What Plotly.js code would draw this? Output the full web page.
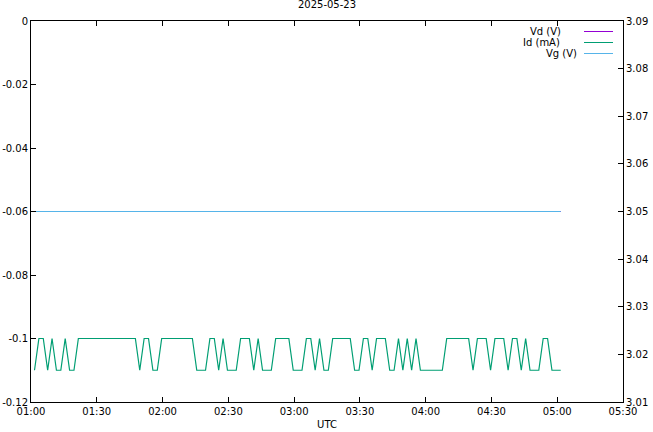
<!DOCTYPE html>
<html>
<head>
<meta charset="utf-8">
<script src="https://cdn.plot.ly/plotly-3.0.1.min.js"></script>
<style>html,body{margin:0;padding:0;background:#fff;}#chart{width:653px;height:432px;}</style>
</head>
<body>
<div id="chart"></div>
<script>
// ---- data ----
const day = '2025-05-23';
// sample times (HH:MM:SS), one every two minutes
const idTimes = [
  '01:01:36','01:03:36','01:05:36','01:07:36','01:09:36','01:11:36','01:13:36','01:15:36','01:17:36','01:19:36',
  '01:21:36','01:23:36','01:25:36','01:27:36','01:29:36','01:31:36','01:33:36','01:35:36','01:37:36','01:39:36',
  '01:41:36','01:43:36','01:45:36','01:47:36','01:49:36','01:51:36','01:53:36','01:55:36','01:57:36','01:59:36',
  '02:01:36','02:03:36','02:05:36','02:07:36','02:09:36','02:11:36','02:13:36','02:15:36','02:17:36','02:19:36',
  '02:21:36','02:23:36','02:25:36','02:27:36','02:29:36','02:31:36','02:33:36','02:35:36','02:37:36','02:39:36',
  '02:41:36','02:43:36','02:45:36','02:47:36','02:49:36','02:51:36','02:53:36','02:55:36','02:57:36','02:59:36',
  '03:01:36','03:03:36','03:05:36','03:07:36','03:09:36','03:11:36','03:13:36','03:15:36','03:17:36','03:19:36',
  '03:21:36','03:23:36','03:25:36','03:27:36','03:29:36','03:31:36','03:33:36','03:35:36','03:37:36','03:39:36',
  '03:41:36','03:43:36','03:45:36','03:47:36','03:49:36','03:51:36','03:53:36','03:55:36','03:57:36','03:59:36',
  '04:01:36','04:03:36','04:05:36','04:07:36','04:09:36','04:11:36','04:13:36','04:15:36','04:17:36','04:19:36',
  '04:21:36','04:23:36','04:25:36','04:27:36','04:29:36','04:31:36','04:33:36','04:35:36','04:37:36','04:39:36',
  '04:41:36','04:43:36','04:45:36','04:47:36','04:49:36','04:51:36','04:53:36','04:55:36','04:57:36','04:59:36',
  '05:01:36'
];
const idValues = [
  -0.11,-0.10,-0.10,-0.11,-0.10,-0.11,-0.11,-0.10,-0.11,-0.11,
  -0.10,-0.10,-0.10,-0.10,-0.10,-0.10,-0.10,-0.10,-0.10,-0.10,
  -0.10,-0.10,-0.10,-0.10,-0.11,-0.10,-0.10,-0.11,-0.11,-0.10,
  -0.10,-0.10,-0.10,-0.10,-0.10,-0.10,-0.10,-0.11,-0.11,-0.11,
  -0.10,-0.10,-0.11,-0.10,-0.11,-0.11,-0.11,-0.10,-0.10,-0.10,
  -0.11,-0.10,-0.11,-0.11,-0.11,-0.10,-0.10,-0.10,-0.10,-0.11,
  -0.11,-0.11,-0.10,-0.10,-0.11,-0.10,-0.11,-0.11,-0.10,-0.10,
  -0.10,-0.10,-0.10,-0.11,-0.11,-0.10,-0.10,-0.11,-0.10,-0.10,
  -0.10,-0.11,-0.11,-0.10,-0.11,-0.10,-0.11,-0.10,-0.11,-0.11,
  -0.11,-0.11,-0.11,-0.11,-0.10,-0.10,-0.10,-0.10,-0.10,-0.10,
  -0.11,-0.10,-0.10,-0.10,-0.11,-0.10,-0.10,-0.10,-0.11,-0.10,
  -0.10,-0.11,-0.10,-0.11,-0.11,-0.11,-0.10,-0.10,-0.11,-0.11,
  -0.11
];
// Vd is hidden under Vg in the reference (same line)
const vdTimes = ['01:01:36','05:01:36'];
const vdValues = [-0.06, -0.06];
const vgTimes = ['01:01:36','05:01:36'];
const vgValues = [3.05, 3.05];

const yTickVals = [0, -0.02, -0.04, -0.06, -0.08, -0.1, -0.12];
const yTickText = ['0', '-0.02', '-0.04', '-0.06', '-0.08', '-0.1', '-0.12'];
const y2TickVals = [3.01, 3.02, 3.03, 3.04, 3.05, 3.06, 3.07, 3.08, 3.09];
const y2TickText = ['3.01', '3.02', '3.03', '3.04', '3.05', '3.06', '3.07', '3.08', '3.09'];
const seriesNames = ['Vd (V)', 'Id (mA)', 'Vg (V)'];
// ---------------------------------------

const stamp = t => day + ' ' + t;
const colors = ['#9400d3', '#009e73', '#56b4e9'];
const FONT = 'DejaVu Sans, sans-serif';

const traces = [
  {x: vdTimes.map(stamp), y: vdValues, name: seriesNames[0], type: 'scatter', mode: 'lines',
   line: {color: colors[0], width: 1}, yaxis: 'y'},
  {x: idTimes.map(stamp), y: idValues, name: seriesNames[1], type: 'scatter', mode: 'lines',
   line: {color: colors[1], width: 1.2}, yaxis: 'y'},
  {x: vgTimes.map(stamp), y: vgValues, name: seriesNames[2], type: 'scatter', mode: 'lines',
   line: {color: colors[2], width: 1}, yaxis: 'y2'}
];

// plot area in pixels: left 31, right 623, top 21, bottom 402
const L = 31, R = 623, T = 21, B = 402;
const PX = p => (p - L) / (R - L);
const PY = p => (B - p) / (B - T);

const legendRows = [
  {textRight: 562, y: 31},
  {textRight: 561, y: 42},
  {textRight: 578, y: 53}
];
const annotations = legendRows.map((r, i) => ({
  text: seriesNames[i], xref: 'paper', yref: 'paper', x: PX(r.textRight), y: PY(r.y),
  xanchor: 'right', yanchor: 'middle', showarrow: false, borderpad: 0,
  font: {family: FONT, size: 10, color: '#000'}
}));
const shapes = legendRows.map((r, i) => ({
  type: 'line', xref: 'paper', yref: 'paper', x0: PX(584), x1: PX(613), y0: PY(r.y + 0.5), y1: PY(r.y + 0.5),
  line: {color: colors[i], width: 1}
}));

const layout = {
  width: 653, height: 432,
  margin: {l: L, r: 653 - R, t: T, b: 432 - B, pad: 0},
  paper_bgcolor: '#fff', plot_bgcolor: '#fff',
  font: {family: FONT, size: 10, color: '#000'},
  showlegend: false,
  title: {text: day, font: {family: FONT, size: 10, color: '#000'},
          xref: 'paper', x: 0.5, yref: 'container', y: 1 - 4/432, yanchor: 'middle'},
  xaxis: {
    type: 'date', range: [stamp('01:00'), stamp('05:30')],
    tick0: stamp('01:00'), dtick: 1800000, tickformat: '%H:%M',
    ticks: 'inside', ticklen: 5, tickcolor: '#000', tickwidth: 1,
    showline: true, linecolor: '#000', linewidth: 1, mirror: 'ticks',
    showgrid: false, zeroline: false,
    tickfont: {family: FONT, size: 10, color: '#000'},
    title: {text: 'UTC', font: {family: FONT, size: 10, color: '#000'}, standoff: 4}
  },
  yaxis: {
    range: [-0.12, 0], tickvals: yTickVals, ticktext: yTickText,
    ticks: 'inside', ticklen: 5, tickcolor: '#000',
    showline: true, linecolor: '#000', linewidth: 1, mirror: false,
    showgrid: false, zeroline: false,
    tickfont: {family: FONT, size: 10, color: '#000'}
  },
  yaxis2: {
    overlaying: 'y', side: 'right',
    range: [3.01, 3.09], tickvals: y2TickVals, ticktext: y2TickText,
    ticks: 'inside', ticklen: 5, tickcolor: '#000',
    showline: true, linecolor: '#000', linewidth: 1,
    showgrid: false, zeroline: false,
    tickfont: {family: FONT, size: 10, color: '#000'}
  },
  annotations: annotations,
  shapes: shapes
};

Plotly.newPlot('chart', traces, layout, {staticPlot: true, displayModeBar: false});
</script>
</body>
</html>
